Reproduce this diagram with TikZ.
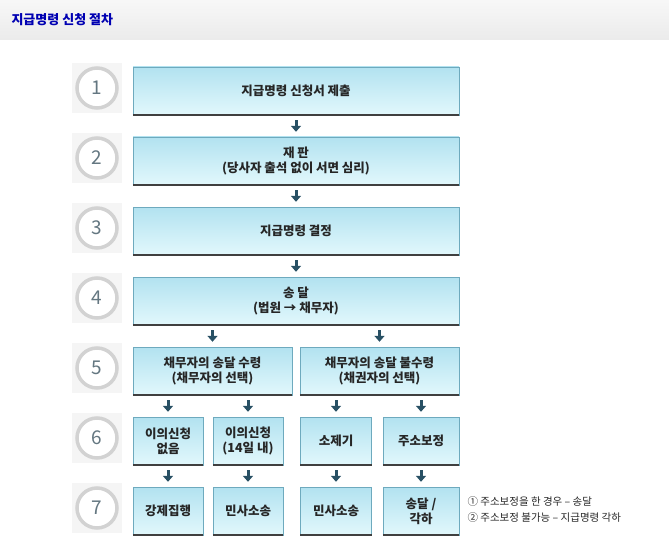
\documentclass[tikz,border=0pt]{standalone}
\usepackage{fontspec}
\usetikzlibrary{arrows.meta}
\setmainfont{Noto Sans CJK KR}
\definecolor{btop}{RGB}{178,226,240}
\definecolor{bbot}{RGB}{226,248,252}
\definecolor{bedge}{RGB}{110,170,190}
\definecolor{arr}{RGB}{40,80,100}
\begin{document}
\begin{tikzpicture}[x=1pt,y=-1pt,
 box/.style={draw=bedge,top color=btop,bottom color=bbot,minimum height=48pt,inner sep=1pt,align=center,font=\fontsize{12.5}{15}\selectfont\bfseries,text=black!85},
 dn/.style={-{Triangle[length=6pt,width=10pt]},line width=3pt,draw=arr,shorten <=5pt,shorten >=5pt},
 num/.style={circle,draw=gray!35,line width=3.5pt,fill=white,minimum size=40pt,font=\fontsize{19}{19}\selectfont\rmfamily,text=cyan!30!black!80}]
\useasboundingbox (0,0) rectangle (669,559);
\shade[top color=gray!6,bottom color=gray!16] (0,0) rectangle (669,40);
\node[anchor=west,text=blue!70!black,font=\fontsize{13}{13}\selectfont\bfseries] (title) at (8,20) {지급명령 신청 절차};
\foreach \i/\y in {1/88,2/158,3/228,4/298,5/368,6/438,7/508}{
 \fill[gray!8] (72,\y-25) rectangle (122,\y+25);
 \node[num] (c\i) at (97,\y) {\i};}
\newcommand{\bx}[5]{\node[box,minimum width=#4 pt] (#1) at (#2,#3) {#5};\draw[line width=1.5pt,black!75] (#1.south west) -- (#1.south east);}
\bx{b1}{296}{91}{326}{지급명령 신청서 제출}
\bx{b2}{296}{161}{326}{재 판\\(당사자 출석 없이 서면 심리)}
\bx{b3}{296}{231}{326}{지급명령 결정}
\bx{b4}{296}{301}{326}{송 달\\(법원 → 채무자)}
\bx{b5a}{212.5}{371}{159}{채무자의 송달 수령\\(채무자의 선택)}
\bx{b5b}{379.5}{371}{159}{채무자의 송달 불수령\\(채권자의 선택)}
\bx{b6a}{168}{441}{70}{이의신청\\없음}
\bx{b6b}{248}{441}{70}{이의신청\\(14일 내)}
\bx{b6c}{336}{441}{71}{소제기}
\bx{b6d}{421}{441}{76}{주소보정}
\bx{b7a}{168}{511}{70}{강제집행}
\bx{b7b}{248}{511}{70}{민사소송}
\bx{b7c}{336}{511}{71}{민사소송}
\bx{b7d}{421}{511}{76}{송달 /\\각하}
\draw[dn] (b1) -- (b2);
\draw[dn] (b2) -- (b3);
\draw[dn] (b3) -- (b4);
\draw[dn] (b4.south -| b5a) -- (b5a);
\draw[dn] (b4.south -| b5b) -- (b5b);
\draw[dn] (b5a.south -| b6a) -- (b6a);
\draw[dn] (b5a.south -| b6b) -- (b6b);
\draw[dn] (b5b.south -| b6c) -- (b6c);
\draw[dn] (b5b.south -| b6d) -- (b6d);
\foreach \a in {a,b,c,d}{\draw[dn] (b6\a) -- (b7\a);}
\node[anchor=west,align=left,font=\fontsize{10.5}{16}\selectfont,text=black!85] (note) at (464,510) {① 주소보정을 한 경우 – 송달\\② 주소보정 불가능 – 지급명령 각하};
\end{tikzpicture}
\end{document}
